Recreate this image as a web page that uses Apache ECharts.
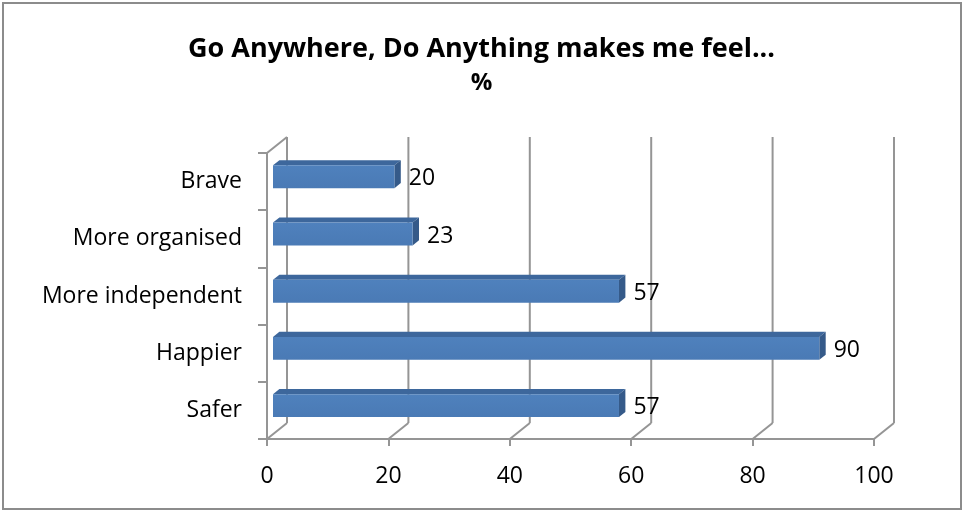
<!DOCTYPE html>
<html>
<head>
<meta charset="utf-8">
<script src="https://cdn.jsdelivr.net/npm/echarts@6/dist/echarts.min.js"></script>
<style>
html,body{margin:0;padding:0;background:#fff;}
#chart{width:963px;height:511px;}
</style>
</head>
<body>
<div id="chart"></div>
<script>
// ---- data ----
const categories = ['Safer', 'Happier', 'More independent', 'More organised', 'Brave'];
const values = [57, 90, 57, 23, 20];
const xTicks = [0, 20, 40, 60, 80, 100];
const titleText = 'Go Anywhere, Do Anything makes me feel...';
const subtitleText = '%';

// ---- styling / 3D geometry constants ----
const FONT = '"Open Sans", Lato, sans-serif';
const LABEL_SIZE = 23;
const GRID_COLOR = '#959595';
const DEPTH = [20, -16];          // wall depth vector (px)
const BAR_FRONT = 0.3;            // bar front face depth fraction
const BAR_BACK = 0.62;            // bar back face depth fraction
const BAR_H = 0.4;                // bar thickness fraction of band

const chart = echarts.init(document.getElementById('chart'));

const barData = values.map((v, i) => [v, i]);
const tickData = xTicks.map(t => [t, 0]);

function renderBar(params, api) {
  const v = api.value(0);
  const c = api.value(1);
  const p0 = api.coord([0, c]);
  const p1 = api.coord([v, c]);
  const band = api.size([0, 1])[1];
  const h = band * BAR_H;
  const fx = DEPTH[0] * BAR_FRONT, fy = DEPTH[1] * BAR_FRONT;
  const bx = DEPTH[0] * BAR_BACK, by = DEPTH[1] * BAR_BACK;
  const x0 = p0[0] + fx, x1 = p1[0] + fx;
  const yTop = p0[1] + fy - h / 2, yBot = p0[1] + fy + h / 2;
  const dx = bx - fx, dy = by - fy;
  return {
    type: 'group',
    children: [
      { type: 'polygon', shape: { points: [[x0, yTop], [x1, yTop], [x1 + dx, yTop + dy], [x0 + dx, yTop + dy]] },
        style: { fill: '#3d679c' } },
      { type: 'polygon', shape: { points: [[x1, yTop], [x1 + dx, yTop + dy], [x1 + dx, yBot + dy], [x1, yBot]] },
        style: { fill: '#355a89' } },
      { type: 'rect', shape: { x: x0, y: yTop, width: x1 - x0, height: h },
        style: { fill: new echarts.graphic.LinearGradient(0, 0, 0, 1, [
          { offset: 0, color: '#4f81bd' }, { offset: 1, color: '#4a7ab5' }]) } },
      { type: 'text', x: x1 + dx + 8, y: p0[1] + fy + 2,
        style: { text: String(v), font: LABEL_SIZE + 'px ' + FONT, fill: '#000', verticalAlign: 'middle', align: 'left' } }
    ]
  };
}

function renderWall(params, api) {
  const t = api.value(0);
  const n = categories.length;
  const band = api.size([0, 1])[1];
  const pFirst = api.coord([t, 0]);
  const pLast = api.coord([t, n - 1]);
  const pb = [pFirst[0], pFirst[1] + band / 2];  // front floor point
  const pt = [pLast[0], pLast[1] - band / 2];    // front top point
  const back = [pb[0] + DEPTH[0], pb[1] + DEPTH[1]];
  const backTop = [pt[0] + DEPTH[0], pt[1] + DEPTH[1]];
  const st = { stroke: GRID_COLOR, lineWidth: 2 };
  const children = [
    { type: 'line', shape: { x1: back[0], y1: back[1], x2: backTop[0], y2: backTop[1] }, style: st },
    { type: 'line', shape: { x1: pb[0], y1: pb[1], x2: back[0], y2: back[1] }, style: st }
  ];
  if (params.dataIndex === 0) {
    children.push({ type: 'line', shape: { x1: pt[0], y1: pt[1], x2: backTop[0], y2: backTop[1] }, style: st });
  }
  return { type: 'group', children };
}

chart.setOption({
  animation: false,
  backgroundColor: '#fff',
  title: [
    { text: titleText, left: 'center', top: 31,
      textStyle: { fontFamily: FONT, fontSize: 27, fontWeight: 'bold', color: '#000' } },
    { text: subtitleText, left: 'center', top: 66,
      textStyle: { fontFamily: FONT, fontSize: 24, fontWeight: 'bold', color: '#000' } }
  ],
  graphic: [{
    type: 'rect', shape: { x: 3, y: 3, width: 958, height: 506 },
    style: { fill: 'none', stroke: '#8c8c8c', lineWidth: 2 }, silent: true
  }],
  grid: { left: 267, right: 89, top: 153, bottom: 72 },
  xAxis: {
    type: 'value', min: 0, max: 100, interval: 20,
    axisLine: { show: true, lineStyle: { color: GRID_COLOR, width: 2 } },
    axisTick: { show: true, length: 7, lineStyle: { color: GRID_COLOR, width: 2 } },
    splitLine: { show: false },
    axisLabel: { color: '#000', fontFamily: FONT, fontSize: LABEL_SIZE, margin: 26 }
  },
  yAxis: {
    type: 'category', data: categories,
    axisLine: { show: true, lineStyle: { color: GRID_COLOR, width: 2 } },
    axisTick: { show: true, length: 9, lineStyle: { color: GRID_COLOR, width: 2 } },
    axisLabel: { color: '#000', fontFamily: FONT, fontSize: LABEL_SIZE, margin: 25, padding: [5, 0, 0, 0] }
  },
  series: [
    { type: 'custom', renderItem: renderWall, data: tickData, z: 1, silent: true },
    { type: 'custom', renderItem: renderBar, data: barData, z: 3, encode: { x: 0, y: 1 } }
  ]
});
</script>
</body>
</html>
